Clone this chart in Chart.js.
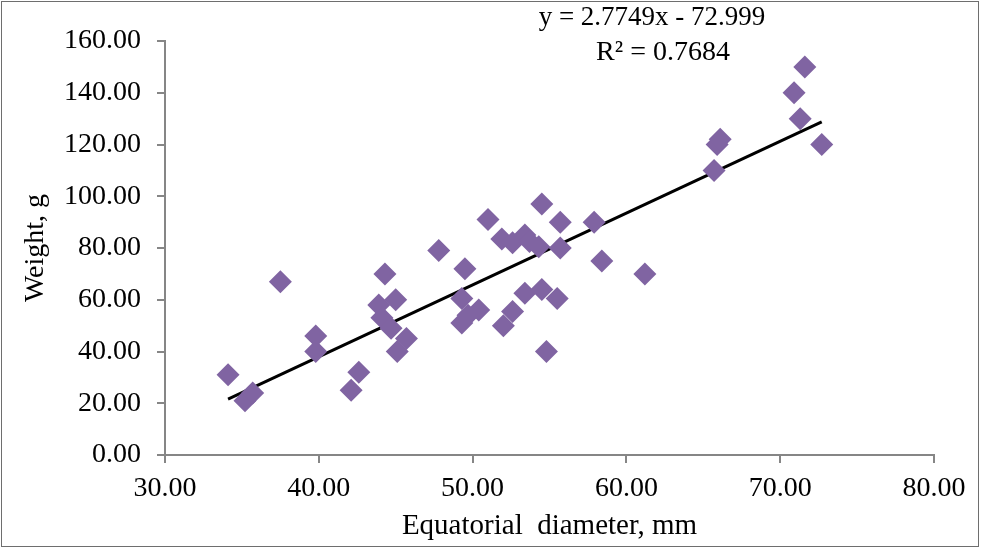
<!DOCTYPE html>
<html>
<head>
<meta charset="utf-8">
<script src="https://cdn.jsdelivr.net/npm/chart.js@4.4.1/dist/chart.umd.min.js"></script>
<style>
    body { margin: 0; background: #fff; }
    #wrap { position: relative; width: 981px; height: 548px; }
    #grafico { position: absolute; left: 0; top: 0; }
    .marco { position: absolute; left: 1px; top: 1px; right: 2px; bottom: 1px; border: 1px solid #6e6e6e; pointer-events: none; }
</style>
</head>
<body>
<div id="wrap">
    <canvas id="grafico" width="981" height="548"></canvas>
    <div class="marco"></div>
</div>
<script>
// Datos (diámetro ecuatorial en mm, peso en g)
const diametro = [34.1, 35.2, 35.7, 37.5, 39.8, 39.8, 42.1, 42.6, 43.9, 44.1,
                  44.3, 45.0, 44.7, 45.1, 45.7, 47.8, 49.3, 49.3, 49.7, 50.4,
                  49.5, 51.0, 51.9, 52.6, 53.4, 53.7, 54.3, 54.5, 55.7, 55.7,
                  52.0, 52.6, 53.4, 54.5, 55.5, 54.8, 57.9, 58.4, 61.2, 65.7,
                  65.9, 66.1, 70.9, 71.3, 71.6, 72.7];
const peso = [31, 21, 24, 67, 46, 40, 25, 32, 58, 53,
              70, 60, 49, 40, 45, 79, 60.5, 51, 54, 56,
              72, 91, 83.5, 82, 85, 82.5, 80.5, 97, 90, 80,
              50, 55.5, 62.5, 64, 60.5, 40, 90, 75, 70, 110,
              120, 122, 140, 130, 150, 120];

// Línea de tendencia (valores de la etiqueta)
const pendiente = 2.7749;
const intercepto = -72.999;
const ecuacion = "y = 2.7749x - 72.999";
const r2Texto = "R\u00B2 = 0.7684";

const ticksX = [30, 40, 50, 60, 70, 80];
const ticksY = [0, 20, 40, 60, 80, 100, 120, 140, 160];

const fuente = "'Liberation Serif', 'Times New Roman', serif";
const gris = "#868686";

const puntos = diametro.map((d, i) => ({ x: d, y: peso[i] }));
const xMin = Math.min(...diametro);
const xMax = Math.max(...diametro);
const tendencia = [
    { x: xMin, y: pendiente * xMin + intercepto },
    { x: xMax, y: pendiente * xMax + intercepto }
];

// Texto de la ecuación sobre el gráfico
const etiquetaEcuacion = {
    id: "etiquetaEcuacion",
    afterDraw(chart) {
        const ctx = chart.ctx;
        ctx.save();
        ctx.fillStyle = "#000";
        ctx.font = "27px " + fuente;
        ctx.textAlign = "center";
        ctx.textBaseline = "middle";
        ctx.fillText(ecuacion, 652, 18);
        ctx.font = "28px " + fuente;
        ctx.fillText(r2Texto, 663, 53);
        ctx.restore();
    }
};

new Chart(document.getElementById("grafico").getContext("2d"), {
    type: "scatter",
    data: {
        datasets: [
            {
                label: "Peso",
                data: puntos,
                pointStyle: "rectRot",
                pointRadius: 11.5,
                pointHoverRadius: 11.5,
                backgroundColor: "#8064a2",
                borderColor: "#8064a2",
                borderWidth: 0
            },
            {
                label: "Tendencia",
                data: tendencia,
                showLine: true,
                borderColor: "#000",
                borderWidth: 3,
                pointRadius: 0
            }
        ]
    },
    options: {
        responsive: false,
        animation: false,
        devicePixelRatio: 1,
        layout: { padding: { left: 0, top: 41, right: 47, bottom: 0 } },
        plugins: { legend: { display: false }, tooltip: { enabled: false } },
        scales: {
            x: {
                type: "linear",
                min: 30,
                max: 80,
                afterBuildTicks: s => { s.ticks = ticksX.map(v => ({ value: v })); },
                afterFit: s => { s.height = 93; },
                ticks: {
                    callback: v => v.toFixed(2),
                    color: "#000",
                    font: { family: fuente, size: 28 },
                    padding: 9,
                    maxRotation: 0
                },
                grid: { drawOnChartArea: false, tickLength: 8, color: gris, lineWidth: 2 },
                border: { color: gris, width: 2 },
                title: {
                    display: true,
                    text: "Equatorial  diameter, mm",
                    color: "#000",
                    font: { family: fuente, size: 29 },
                    padding: { top: 4, bottom: 4 }
                }
            },
            y: {
                min: 0,
                max: 160,
                afterBuildTicks: s => { s.ticks = ticksY.map(v => ({ value: v })); },
                afterFit: s => { s.width = 165; },
                ticks: {
                    callback: v => v.toFixed(2),
                    color: "#000",
                    font: { family: fuente, size: 28 },
                    padding: 16
                },
                grid: { drawOnChartArea: false, tickLength: 8, color: gris, lineWidth: 2 },
                border: { color: gris, width: 2 },
                title: {
                    display: true,
                    text: "Weight, g",
                    color: "#000",
                    font: { family: fuente, size: 28 },
                    padding: { top: 19, bottom: 0 }
                }
            }
        }
    },
    plugins: [etiquetaEcuacion]
});
</script>
</body>
</html>
